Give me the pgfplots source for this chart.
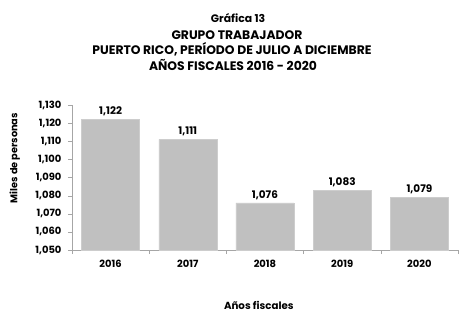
\documentclass[border=0pt]{standalone}
\usepackage{fontspec}
\setmainfont{Poppins}
\usepackage{pgfplots}
\pgfplotsset{compat=1.18}
\definecolor{barfill}{HTML}{C0C0C0}
\definecolor{axgray}{HTML}{A6A6A6}
\begin{document}
\begin{tikzpicture}[x=1bp,y=1bp]
\path (-72bp,-62bp) rectangle (388bp,250bp);
\begin{axis}[
  at={(0,0)}, anchor=south west,
  scale only axis, width=386bp, height=145bp,
  ymin=1050, ymax=1130, ytick={1050,1060,...,1130},
  xmin=-0.5, xmax=4.5,
  xtick={0,1,2,3,4},
  xticklabels={2016,2017,2018,2019,2020},
  minor xtick={-0.5,0.5,1.5,2.5,3.5,4.5},
  major x tick style={draw=none},
  minor x tick style={draw=axgray},
  minor tick length=4bp,
  y tick style={draw=axgray},
  major tick length=4bp,
  tick align=outside,
  axis x line*=bottom, axis y line*=left,
  axis line style={draw=axgray, -},
  /pgf/number format/1000 sep={,},
  /pgf/number format/assume math mode=true,
  yticklabel style={font=\bfseries\fontsize{10}{11}\selectfont, xshift=-3bp},
  xticklabel style={font=\bfseries\fontsize{10}{11}\selectfont, yshift=-3bp},
  ylabel={Miles de personas},
  ylabel style={font=\bfseries\fontsize{9.8}{11}\selectfont, at={(axis description cs:-0.148,0.634)}, anchor=center},
  xlabel={Años fiscales},
  xlabel style={font=\bfseries\fontsize{10.3}{11}\selectfont, at={(axis description cs:0.484,-0.38)}, anchor=center},
  nodes near coords,
  every node near coord/.append style={font=\bfseries\fontsize{10.5}{11}\selectfont, yshift=0bp,
    /pgf/number format/1000 sep={,}, /pgf/number format/assume math mode=true},
  clip=false,
]
\addplot[ybar, bar width=58bp, fill=barfill, draw=barfill!80!white] coordinates {
  (0,1122) (1,1111) (2,1076) (3,1083) (4,1079)
};
\end{axis}
\node[font=\bfseries\fontsize{10.9}{12}\selectfont, anchor=base] at (166bp,227bp) {Gráfica 13};
\node[font=\bfseries\fontsize{12.4}{13}\selectfont, anchor=base] at (165bp,210bp) {GRUPO TRABAJADOR};
\node[font=\bfseries\fontsize{12.4}{13}\selectfont, anchor=base] at (160bp,195bp) {PUERTO RICO, PERÍODO DE JULIO A DICIEMBRE};
\node[font=\bfseries\fontsize{12.4}{13}\selectfont, anchor=base] at (161bp,179bp) {AÑOS FISCALES 2016 - 2020};
\end{tikzpicture}
\end{document}
